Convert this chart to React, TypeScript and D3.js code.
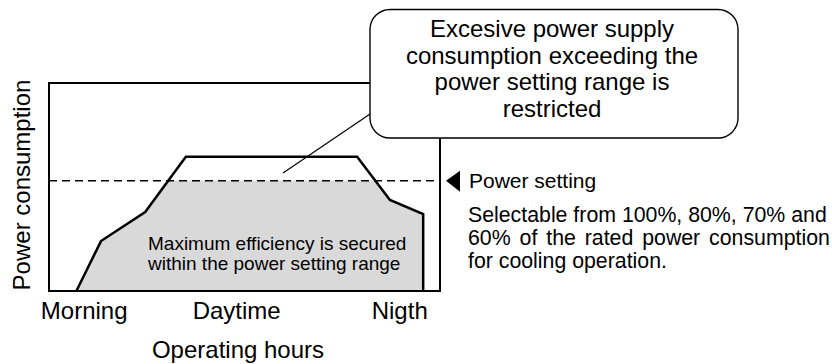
import React from "react";
import * as d3 from "d3";

const timePoints = [7, 13.3, 24.6, 35, 78.8, 87.2, 95.7, 95.7];
const powerValues = [0, 24, 38, 64.5, 64.5, 43.8, 37, 0];
const powerSetting = 53;
const xTickLabels = ["Morning", "Daytime", "Nigth"];
const xTickPositions = [9, 48, 89.7];
const calloutLines = [
  "Excesive power supply",
  "consumption exceeding the",
  "power setting range is",
  "restricted",
];
const innerLines = ["Maximum efficiency is secured", "within the power setting range"];
const noteLines = [
  "Selectable from 100%, 80%, 70% and",
  "60% of the rated power consumption",
  "for cooling operation.",
];

const W = 832;
const H = 364;
const L = 49, R = 440, T = 83, B = 291;
const FONT = "'Liberation Sans', Arial, sans-serif";

export default function App() {
  const x = d3.scaleLinear().domain([0, 100]).range([L, R]);
  const y = d3.scaleLinear().domain([0, 100]).range([B, T]);
  const pts: [number, number][] = timePoints.map((t, i) => [t, powerValues[i]]);
  const line = d3.line<[number, number]>().x((d) => x(d[0])).y((d) => y(d[1]));
  const area = d3
    .area<[number, number]>()
    .x((d) => x(d[0]))
    .y0(y(0))
    .y1((d) => y(d[1]));
  const ys = y(powerSetting);

  const box = { x: 370, y: 9.5, w: 368, h: 128.5 };
  const cx = 552;

  return (
    <svg width={W} height={H} style={{ position: "absolute", left: 0, top: 0, background: "#fff" }} fontFamily={FONT}>
      <defs>
        <clipPath id="below">
          <rect x={L} y={ys} width={R - L} height={B - ys} />
        </clipPath>
      </defs>
      <path d={area(pts) || ""} fill="#d9d9d9" clipPath="url(#below)" />
      <rect x={L} y={T} width={R - L} height={B - T} fill="none" stroke="#000" strokeWidth={2} />
      <line x1={L} x2={R} y1={ys} y2={ys} stroke="#000" strokeWidth={1.6} strokeDasharray="8 5" />
      <path d={line(pts) || ""} fill="none" stroke="#000" strokeWidth={2.5} strokeLinejoin="miter" />
      {xTickLabels.map((lab, i) => (
        <text key={lab} x={x(xTickPositions[i])} y={319} fontSize={24} textAnchor="middle">
          {lab}
        </text>
      ))}
      <text x={238} y={358} fontSize={24} textAnchor="middle">Operating hours</text>
      <text transform={`translate(30,185) rotate(-90)`} fontSize={24} textAnchor="middle">
        Power consumption
      </text>
      {innerLines.map((s, i) => (
        <text key={s} x={148} y={250 + i * 20} fontSize={19}>
          {s}
        </text>
      ))}
      <line x1={283} y1={173} x2={373} y2={112} stroke="#000" strokeWidth={1.2} />
      <rect x={box.x} y={box.y} width={box.w} height={box.h} rx={20} ry={20} fill="#fff" stroke="#000" strokeWidth={1.4} />
      {calloutLines.map((s, i) => (
        <text key={s} x={cx} y={37 + i * 26.5} fontSize={24} textAnchor="middle">
          {s}
        </text>
      ))}
      <path d={`M446,${ys} L460,${ys - 10} L460,${ys + 11} Z`} fill="#000" />
      <text x={469} y={188} fontSize={21}>Power setting</text>
      {noteLines.map((s, i) => (
        <text
          key={s}
          x={468}
          y={222 + i * 23}
          fontSize={21.3}
          wordSpacing={i === 1 ? 3 : 0}
        >
          {s}
        </text>
      ))}
    </svg>
  );
}
